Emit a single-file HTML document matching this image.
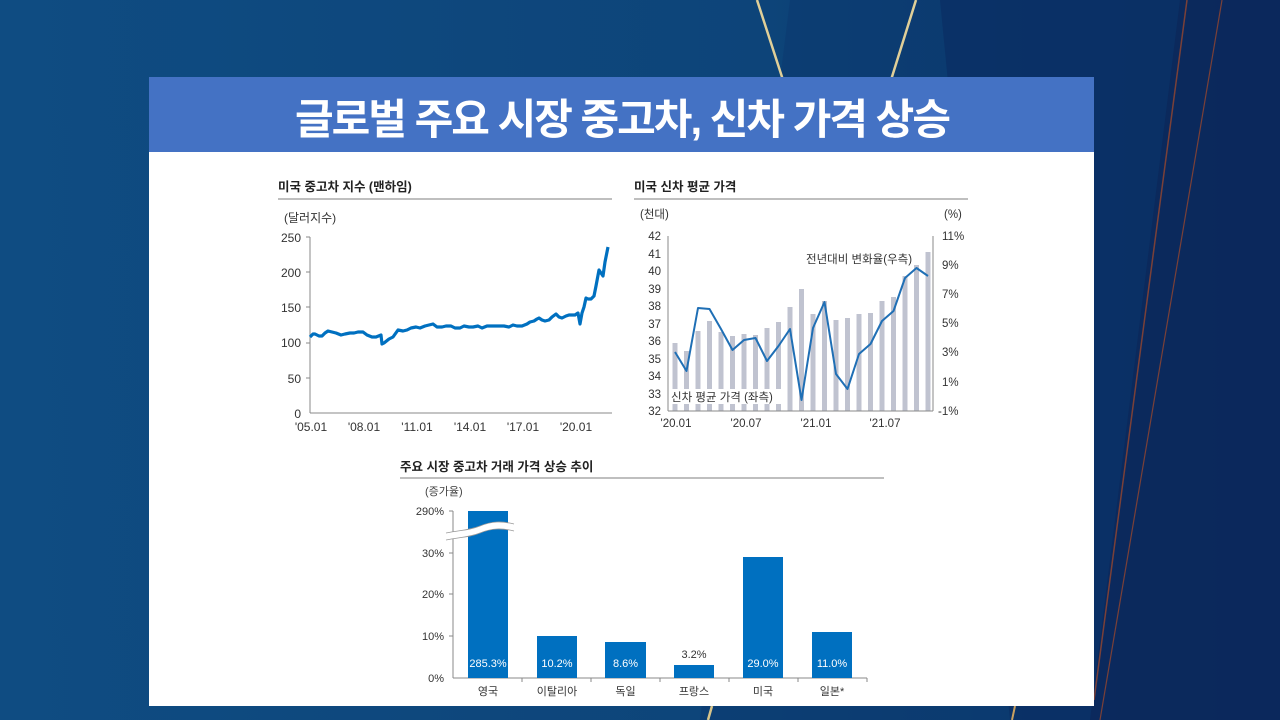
<!DOCTYPE html>
<html><head><meta charset="utf-8"><style>
html,body{margin:0;padding:0;}
body{width:1280px;height:720px;overflow:hidden;background:#0e4a80;font-family:"Liberation Sans","Noto Sans CJK KR",sans-serif;}
svg{display:block;}
svg text{font-family:"Liberation Sans","Noto Sans CJK KR",sans-serif;}
</style></head><body>
<svg width="1280" height="720" viewBox="0 0 1280 720" xmlns="http://www.w3.org/2000/svg">
<defs>
<linearGradient id="bg" x1="0" y1="0" x2="1" y2="0">
<stop offset="0" stop-color="#0f4c82"/><stop offset="0.6" stop-color="#0d4479"/><stop offset="1" stop-color="#0b2f64"/>
</linearGradient>
</defs>
<rect width="1280" height="720" fill="url(#bg)"/>
<polygon points="790,0 1280,0 1280,720 700,720" fill="#0c3a70" opacity="0.6"/>
<polygon points="940,0 1280,0 1280,720 1010,720" fill="#0a2c60" opacity="0.6"/>
<polygon points="1180,0 1280,0 1280,720 1090,720" fill="#0b2456" opacity="0.6"/>
<line x1="757" y1="0" x2="783" y2="80" stroke="#e0cf98" stroke-width="2.5"/>
<line x1="916" y1="0" x2="891" y2="80" stroke="#e0cf98" stroke-width="2.5"/>
<line x1="712" y1="706" x2="708" y2="720" stroke="#d8c48a" stroke-width="2.5"/>
<line x1="1015" y1="706" x2="1012" y2="720" stroke="#c9a060" stroke-width="2"/>
<line x1="1187" y1="0" x2="1094" y2="700" stroke="#7a4038" stroke-width="1.5"/>
<line x1="1222" y1="0" x2="1100" y2="720" stroke="#7a4038" stroke-width="1.2"/>

<!-- panel -->
<rect x="149" y="77" width="945" height="629" fill="#ffffff"/>
<rect x="149" y="77" width="945" height="75" fill="#4472c4"/>
<text x="622" y="134" text-anchor="middle" font-size="42" font-weight="bold" fill="#ffffff" letter-spacing="-2">글로벌 주요 시장 중고차, 신차 가격 상승</text>

<!-- chart 1 -->
<text x="278" y="191" font-size="12.5" font-weight="bold" fill="#222">미국 중고차 지수 (맨하임)</text>
<line x1="278" y1="199" x2="612" y2="199" stroke="#999" stroke-width="1.2"/>
<text x="284" y="222" font-size="12" fill="#333">(달러지수)</text>
<line x1="310" y1="237" x2="310" y2="413" stroke="#888" stroke-width="1"/>
<line x1="310" y1="413" x2="612" y2="413" stroke="#888" stroke-width="1"/>
<g font-size="12" fill="#333" text-anchor="end">
<text x="301" y="242">250</text><text x="301" y="277">200</text><text x="301" y="312">150</text>
<text x="301" y="347">100</text><text x="301" y="383">50</text><text x="301" y="418">0</text>
</g>
<g stroke="#888"><line x1="306" y1="237" x2="310" y2="237"/><line x1="306" y1="272" x2="310" y2="272"/><line x1="306" y1="307" x2="310" y2="307"/><line x1="306" y1="343" x2="310" y2="343"/><line x1="306" y1="378" x2="310" y2="378"/></g>
<g font-size="12" fill="#333" text-anchor="middle">
<text x="311" y="431">'05.01</text><text x="364" y="431">'08.01</text><text x="417" y="431">'11.01</text>
<text x="470" y="431">'14.01</text><text x="523" y="431">'17.01</text><text x="576" y="431">'20.01</text>
</g>
<polyline fill="none" stroke="#0070c0" stroke-width="3.2" stroke-linejoin="round" points="310,337 313,334 315,334 319,336 322,336 325,333 328,331 332,332 336,333 341,335 345,334 350,333 354,333 358,332 363,332 367,335 372,337 376,337 381,335 382,344 384,343 389,339 393,337 398,330 403,331 407,330 411,328 416,327 420,328 425,326 429,325 433,324 437,327 442,327 446,326 451,326 455,328 460,328 464,326 469,327 473,327 478,326 482,328 487,326 491,326 495,326 500,326 504,326 509,327 513,325 517,326 522,326 527,324 530,322 534,321 537,319 539,318 542,320 545,321 549,320 552,317 556,314 559,317 562,318 566,316 569,315 572,315 575,315 578,313 580,324 582,313 584,307 586,298 588,299 591,299 594,296 596,286 599,270 601,273 603,276 605,262 608,247"/>

<!-- chart 2 -->
<text x="634" y="191" font-size="12.5" font-weight="bold" fill="#222">미국 신차 평균 가격</text>
<line x1="634" y1="199" x2="968" y2="199" stroke="#999" stroke-width="1.2"/>
<text x="640" y="218" font-size="11.5" fill="#333">(천대)</text>
<text x="944" y="218" font-size="11.5" fill="#333">(%)</text>
<g fill="#c0c3d0">
<rect x="672.5" y="343" width="5" height="68"/><rect x="684" y="351" width="5" height="60"/><rect x="695.5" y="331" width="5" height="80"/><rect x="707" y="321" width="5" height="90"/><rect x="718.5" y="332" width="5" height="79"/><rect x="730" y="336" width="5" height="75"/><rect x="741.5" y="334" width="5" height="77"/><rect x="753" y="335" width="5" height="76"/><rect x="764.5" y="328" width="5" height="83"/><rect x="776" y="322" width="5" height="89"/><rect x="787.5" y="307" width="5" height="104"/><rect x="799" y="289" width="5" height="122"/><rect x="810.5" y="314" width="5" height="97"/><rect x="822" y="301" width="5" height="110"/><rect x="833.5" y="320" width="5" height="91"/><rect x="845" y="318" width="5" height="93"/><rect x="856.5" y="314" width="5" height="97"/><rect x="868" y="313" width="5" height="98"/><rect x="879.5" y="301" width="5" height="110"/><rect x="891" y="297" width="5" height="114"/><rect x="902.5" y="276" width="5" height="135"/><rect x="914" y="265" width="5" height="146"/><rect x="925.5" y="252" width="5" height="159"/>
</g>
<rect x="670" y="389" width="114" height="15" fill="#fff"/>
<text x="671" y="401" font-size="11.5" fill="#333">신차 평균 가격 (좌측)</text>
<text x="806" y="263" font-size="11.5" fill="#333">전년대비 변화율(우측)</text>
<line x1="668" y1="236" x2="668" y2="411" stroke="#888"/>
<line x1="933" y1="236" x2="933" y2="411" stroke="#888"/>
<line x1="668" y1="411" x2="933" y2="411" stroke="#888"/>
<g font-size="11.5" fill="#333" text-anchor="end">
<text x="661" y="240">42</text><text x="661" y="258">41</text><text x="661" y="275">40</text><text x="661" y="293">39</text><text x="661" y="310">38</text><text x="661" y="328">37</text><text x="661" y="345">36</text><text x="661" y="363">35</text><text x="661" y="380">34</text><text x="661" y="398">33</text><text x="661" y="415">32</text>
</g>
<g font-size="11.5" fill="#333">
<text x="942" y="240">11%</text><text x="942" y="269">9%</text><text x="942" y="298">7%</text><text x="942" y="327">5%</text><text x="942" y="356">3%</text><text x="942" y="386">1%</text><text x="938" y="415">-1%</text>
</g>
<g font-size="11.5" fill="#333" text-anchor="middle">
<text x="676" y="427">'20.01</text><text x="746" y="427">'20.07</text><text x="816" y="427">'21.01</text><text x="885" y="427">'21.07</text>
</g>
<polyline fill="none" stroke="#1f6fb5" stroke-width="2" stroke-linejoin="round" points="675,352 686.5,371 698,308 709.5,309 721,329 732.5,350 744,340 755.5,338 767,361 778.5,346 790,329 801.5,400 813,328 824.5,302 836,374 847.5,389 859,354 870.5,344 882,321 893.5,311 905,278 916.5,268 928,276"/>

<!-- chart 3 -->
<text x="400" y="471" font-size="12.5" font-weight="bold" fill="#222">주요 시장 중고차 거래 가격 상승 추이</text>
<line x1="400" y1="478" x2="884" y2="478" stroke="#999" stroke-width="1.2"/>
<text x="425" y="495" font-size="11" fill="#444">(증가율)</text>
<g font-size="11" fill="#333" text-anchor="end">
<text x="444" y="515">290%</text><text x="444" y="557">30%</text><text x="444" y="598">20%</text><text x="444" y="640">10%</text><text x="444" y="682">0%</text>
</g>
<line x1="453" y1="511" x2="453" y2="678" stroke="#888"/>
<line x1="453" y1="678" x2="867" y2="678" stroke="#888"/>
<g stroke="#888"><line x1="449" y1="511" x2="453" y2="511"/><line x1="449" y1="553" x2="453" y2="553"/><line x1="449" y1="594" x2="453" y2="594"/><line x1="449" y1="636" x2="453" y2="636"/>
<line x1="522" y1="678" x2="522" y2="682"/><line x1="591" y1="678" x2="591" y2="682"/><line x1="660" y1="678" x2="660" y2="682"/><line x1="729" y1="678" x2="729" y2="682"/><line x1="798" y1="678" x2="798" y2="682"/><line x1="867" y1="678" x2="867" y2="682"/></g>
<g fill="#0070c0">
<rect x="468" y="511" width="40" height="167"/><rect x="537" y="636" width="40" height="42"/><rect x="605" y="642" width="41" height="36"/><rect x="674" y="665" width="40" height="13"/><rect x="743" y="557" width="40" height="121"/><rect x="812" y="632" width="40" height="46"/>
</g>
<path d="M446,533 C462,530 470,530 480,526 C492,521 502,521 514,524 L514,531 C502,528 492,528 480,533 C470,537 462,537 446,540 Z" fill="#fff"/>
<path d="M446,533 C462,530 470,530 480,526 C492,521 502,521 514,524" fill="none" stroke="#999" stroke-width="0.8"/>
<path d="M446,540 C462,537 470,537 480,533 C492,528 502,528 514,531" fill="none" stroke="#999" stroke-width="0.8"/>
<g font-size="11" fill="#fff" text-anchor="middle">
<text x="488" y="667">285.3%</text><text x="557" y="667">10.2%</text><text x="625.5" y="667">8.6%</text><text x="763" y="667">29.0%</text><text x="832" y="667">11.0%</text>
</g>
<text x="694" y="658" font-size="11" fill="#333" text-anchor="middle">3.2%</text>
<g font-size="11" fill="#333" text-anchor="middle">
<text x="488" y="695">영국</text><text x="557" y="695">이탈리아</text><text x="625.5" y="695">독일</text><text x="694" y="695">프랑스</text><text x="763" y="695">미국</text><text x="832" y="695">일본*</text>
</g>
</svg>
</body></html>
